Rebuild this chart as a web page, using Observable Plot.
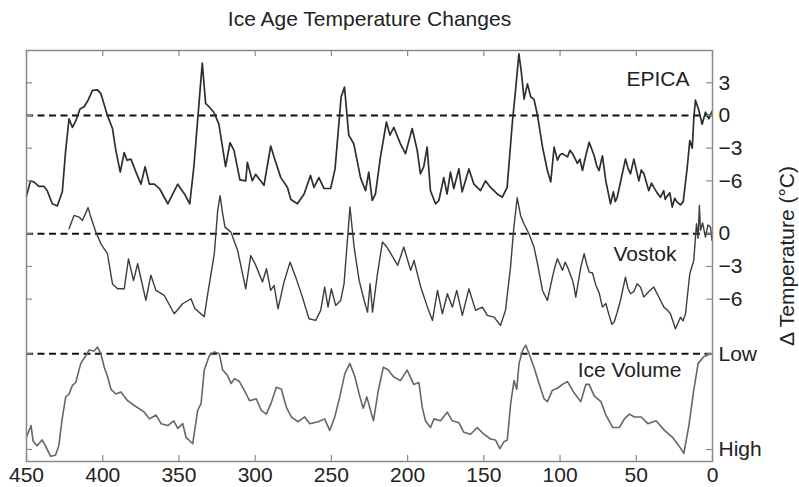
<!DOCTYPE html>
<html><head><meta charset="utf-8">
<script src="https://cdn.jsdelivr.net/npm/d3@7"></script>
<script src="https://cdn.jsdelivr.net/npm/@observablehq/plot@0.6"></script>
<style>body{margin:0;background:#fff;}</style>
</head><body><div id="chart"></div>
<script>
// ---- data (ages in thousand years before present) ----
const epicaAge = [450,447.4,445.2,441.9,438.6,436.4,433.1,429.8,426.5,424.3,422.1,419.9,417.7,414.9,412.2,409.6,406.7,403.4,401.2,396.9,393.6,391.4,388.5,385.9,384.1,381.5,378.2,374.9,372.2,369.4,366.1,362.8,357.3,350.8,346.4,342.9,340.2,337.6,334.7,332.5,330.3,327.1,323.8,319.4,316.5,313.9,310.0,306.2,305.1,301.9,299.7,297.5,294.2,289.8,287.2,283.2,278.8,276.6,272.3,267.9,263.7,261.4,258.2,254.8,250.5,247.6,243.6,241.4,238.6,235.3,230.9,227.6,225.5,223.2,221.1,217.8,213.9,211.6,209.0,204.7,201.4,197.0,193.7,191.6,189.4,187.2,185.0,181.7,179.5,176.3,174.1,171.9,169.7,166.4,164.2,159.8,156.5,152.2,148.9,145.6,141.2,137.9,134.7,131.4,129.2,127.0,125.4,123.6,121.4,119.2,117.1,114.8,111.5,108.3,106.1,103.9,101.7,100.0,98.4,95.1,93.5,91.8,88.6,87.0,85.3,83.0,80.9,77.6,76.0,74.4,72.2,70.0,66.9,65.0,63.8,62.5,59.2,57.1,55.5,53.8,51.6,48.3,46.7,45.0,41.8,40.0,38.5,36.3,34.1,32.0,31.0,29.7,28.0,26.4,24.8,23.2,21.0,19.2,16.6,14.9,13.3,12.2,11.2,9.0,6.8,4.6,2.4,0.2];
const epicaTemp = [-7.4,-6.0,-6.1,-6.5,-6.5,-6.9,-8.1,-8.3,-7.0,-3.2,-0.3,-1.1,-0.5,0.6,0.8,1.4,2.3,2.35,2.0,0.0,-1.2,-3.2,-5.2,-3.4,-4.1,-4.0,-5.2,-6.3,-4.7,-6.3,-6.3,-6.7,-8.1,-6.3,-7.2,-8.1,-4.7,-0.2,4.8,1.1,0.8,0.3,-0.8,-4.7,-2.5,-3.2,-5.9,-6.0,-4.3,-6.0,-5.4,-5.8,-6.4,-2.8,-4.0,-5.7,-6.6,-7.7,-8.1,-7.2,-5.5,-6.6,-5.7,-6.7,-6.7,-4.9,1.7,2.6,-1.8,-2.6,-5.7,-6.9,-5.2,-7.8,-7.2,-3.8,-0.6,-1.8,-1.1,-2.6,-3.5,-1.2,-3.2,-5.35,-4.7,-2.9,-6.9,-8.1,-7.8,-5.7,-7.2,-5.2,-6.7,-4.9,-7.0,-4.9,-6.3,-6.9,-6.0,-6.6,-7.2,-7.5,-6.6,-0.8,2.3,5.66,4.0,1.5,2.9,1.7,1.5,0.0,-2.9,-5.05,-6.1,-2.9,-4.1,-3.6,-3.5,-3.8,-3.2,-3.5,-4.4,-4.0,-5.05,-3.6,-2.45,-3.7,-4.6,-5.05,-3.7,-6.0,-8.1,-7.0,-7.9,-7.5,-5.35,-4.0,-4.8,-5.35,-4.0,-6.0,-5.0,-5.35,-6.9,-6.2,-6.6,-7.1,-7.5,-6.9,-7.7,-7.4,-7.1,-8.4,-7.6,-7.95,-8.2,-7.9,-4.8,-2.3,-3.0,-0.15,1.4,0.5,-0.8,0.3,-0.3,0.4];

const vostokAge = [422.1,418.8,415.5,413.3,409.6,407.8,404.5,401.2,396.9,393.6,390.3,385.9,383.1,379.8,377.1,371.7,368.4,365.1,359.6,353.1,347.6,342.1,339.5,333.4,331.1,326.8,324.6,323.0,321.3,319.8,315.9,311.5,306.2,302.9,299.6,295.2,292.6,289.8,287.6,285.0,281.1,277.1,273.4,269.0,264.7,260.3,257.0,254.4,252.2,250.0,247.2,243.9,241.7,237.8,235.1,231.8,228.5,226.3,224.6,223.0,219.8,216.5,213.6,211.0,206.5,204.7,202.5,198.0,195.8,191.4,187.0,183.7,180.4,177.2,173.9,170.6,167.8,164.1,159.8,155.4,151.0,147.7,143.3,139.1,135.8,132.5,130.3,128.1,125.9,123.7,120.4,117.1,114.8,111.5,108.3,105.0,103.3,101.7,98.4,96.7,95.1,91.8,90.8,89.7,86.4,84.2,82.5,80.9,78.7,76.5,74.4,72.2,70.0,67.8,66.0,64.5,62.5,60.4,57.1,55.5,53.8,51.6,49.4,47.2,45.0,41.8,38.5,35.2,31.9,29.7,27.6,24.3,21.0,19.4,17.7,14.9,12.3,10.5,9.5,8.6,7.9,6.5,4.6,3.0,1.3,0.3];
const vostokTemp = [0.46,1.68,1.53,1.22,2.4,1.53,0.15,-0.92,-1.83,-4.6,-5.05,-5.05,-2.3,-4.3,-2.75,-6.1,-3.8,-5.2,-5.66,-7.34,-6.42,-5.96,-6.88,-7.6,-5.5,-1.83,2.14,3.5,1.83,0.61,0.15,-1.53,-5.05,-1.99,-2.9,-4.43,-3.21,-5.2,-4.74,-6.88,-4.43,-2.6,-3.98,-5.81,-7.8,-7.95,-7.03,-4.89,-6.73,-5.05,-6.57,-6.12,-4.59,2.45,-1.22,-4.28,-6.12,-7.19,-4.59,-7.19,-3.67,-0.76,-1.22,-1.83,-2.9,-2.14,-1.22,-3.36,-2.45,-4.89,-6.73,-7.95,-5.2,-7.34,-5.5,-6.73,-5.2,-7.49,-5.05,-7.03,-6.73,-7.49,-7.65,-8.41,-7.03,-3.06,0.61,3.3,1.68,0.92,0.0,-1.22,-2.75,-5.2,-6.12,-3.98,-3.0,-2.29,-3.36,-2.6,-3.06,-4.28,-4.9,-5.81,-3.06,-1.83,-2.8,-3.52,-3.6,-4.74,-5.4,-6.73,-6.4,-7.49,-8.3,-8.1,-7.2,-6.12,-3.98,-5.0,-5.5,-5.3,-4.59,-4.9,-5.81,-5.3,-4.89,-5.8,-6.73,-7.0,-7.34,-8.72,-7.65,-8.0,-7.34,-3.67,-2.45,0.92,-0.4,2.6,0.31,1.0,-0.31,0.8,0.61,-0.61];

const iceAge = [450,447,445.7,443.1,439.8,437.6,434.3,431.0,428.8,426.6,424.3,422.1,419.9,417.7,414.4,411.1,408.9,405.6,403.4,401.2,399.0,396.8,394.6,391.4,388.1,383.7,379.3,372.7,369.4,365.0,361.7,357.3,353.4,350.8,347.5,345.4,341.0,337.7,335.5,333.4,330.1,326.8,323.5,321.3,318.0,315.8,313.6,310.3,305.9,303.7,299.3,296.0,292.7,289.4,286.1,282.8,279.5,276.3,271.9,267.5,264.2,258.7,254.4,251.1,247.8,244.5,241.2,237.9,234.6,231.3,229.1,226.8,222.4,219.2,215.9,212.6,209.3,204.7,200.3,196.0,192.6,190.4,188.3,185.0,182.7,178.4,174.0,170.7,166.4,163.1,158.7,154.3,150.0,145.6,142.4,139.5,136.9,134.6,132.4,130.2,128.4,126.9,124.7,122.5,120.3,117.1,113.8,110.5,108.3,105.0,101.7,98.4,95.1,90.7,86.4,83.1,80.9,77.6,73.2,69.9,65.5,61.1,57.8,54.5,51.2,46.8,42.4,37.0,31.5,26.4,22.1,18.8,15.5,12.3,9.4,5.7,1.3,0];
// relative ice volume index: 0 = "High" tick, 1 = "Low" tick
const iceLevel = [0.13,0.25,0.09,0.04,0.10,0.04,-0.07,-0.06,0.04,0.32,0.55,0.58,0.67,0.70,0.90,0.98,1.04,1.03,1.07,1.0,0.86,0.76,0.63,0.58,0.60,0.51,0.46,0.39,0.32,0.36,0.27,0.25,0.30,0.22,0.27,0.13,0.06,0.41,0.48,0.83,0.98,1.02,1.0,0.83,0.77,0.69,0.74,0.71,0.58,0.51,0.53,0.41,0.37,0.49,0.65,0.63,0.44,0.34,0.29,0.34,0.27,0.29,0.32,0.2,0.34,0.55,0.79,0.90,0.76,0.55,0.43,0.55,0.30,0.62,0.86,0.83,0.76,0.72,0.83,0.68,0.70,0.44,0.30,0.23,0.32,0.30,0.39,0.30,0.28,0.18,0.16,0.23,0.16,0.11,0.10,0.01,0.08,0.10,0.48,0.72,0.63,0.90,1.03,1.09,1.0,0.86,0.69,0.53,0.50,0.62,0.64,0.68,0.71,0.59,0.50,0.68,0.68,0.56,0.50,0.36,0.23,0.23,0.32,0.37,0.34,0.34,0.27,0.30,0.20,0.13,0.04,-0.04,0.25,0.62,0.90,0.97,1.0,1.0];

const xTicks = [450,400,350,300,250,200,150,100,50,0];
const epicaTicks = [3,0,-3,-6];
const vostokTicks = [0,-3,-6];
const iceTickLabels = ["Low","High"];
const seriesNames = ["EPICA","Vostok","Ice Volume"];
const titleText = "Ice Age Temperature Changes";
const axisLabel = "\u0394 Temperature (\u00B0C)";

// ---- layout: stacking offsets on a shared vertical scale (°C units) ----
const VOSTOK_OFFSET = -10.85;
const ICE_HIGH = -30.64, ICE_LOW = -21.86;
const iceY = f => ICE_HIGH + f * (ICE_LOW - ICE_HIGH);

const epica = epicaAge.map((a, i) => ({age: a, y: epicaTemp[i]}));
const vostok = vostokAge.map((a, i) => ({age: a, y: vostokTemp[i] + VOSTOK_OFFSET}));
const ice = iceAge.map((a, i) => ({age: a, y: iceY(iceLevel[i])}));

const fmt = t => t < 0 ? "\u2212" + Math.abs(t) : String(t);
const yTicks = [...epicaTicks, ...vostokTicks.map(v => v + VOSTOK_OFFSET), ICE_LOW, ICE_HIGH];
const yLabels = [...epicaTicks.map(fmt), ...vostokTicks.map(fmt), ...iceTickLabels];
const labelOf = new Map(yTicks.map((v, i) => [v, yLabels[i]]));
const zeroLines = [0, VOSTOK_OFFSET, ICE_LOW];

const W = 799, H = 487, mT = 50, mB = 26, mL = 26, mR = 87;
const frameW = W - mL - mR, frameH = H - mT - mB, tick = 6;
const gray = "#8a8a8a";

const chart = Plot.plot({
  width: W, height: H,
  marginTop: mT, marginBottom: mB, marginLeft: mL, marginRight: mR,
  x: {domain: [450, 0], label: null},
  y: {domain: [-31.74, 5.96], label: null},
  style: {fontFamily: "'Liberation Sans', Arial, sans-serif", fontSize: "21px", color: "#222", background: "#fff"},
  marks: [
    Plot.ruleY(zeroLines, {stroke: "#111", strokeWidth: 2, strokeDasharray: "7,4.5"}),
    Plot.line(ice, {x: "age", y: "y", stroke: "#666", strokeWidth: 1.6}),
    Plot.line(vostok, {x: "age", y: "y", stroke: "#3d3d3d", strokeWidth: 1.4}),
    Plot.line(epica, {x: "age", y: "y", stroke: "#2e2e2e", strokeWidth: 1.7}),
    Plot.frame({stroke: gray, strokeWidth: 1.5}),
    Plot.tickX(xTicks, {x: d => d, insetTop: frameH - tick, stroke: gray, strokeWidth: 1.2}),
    Plot.tickX(xTicks, {x: d => d, insetBottom: frameH - tick, stroke: gray, strokeWidth: 1.2}),
    Plot.tickY(yTicks, {y: d => d, insetRight: frameW - tick, stroke: gray, strokeWidth: 1.2}),
    Plot.tickY(yTicks, {y: d => d, insetLeft: frameW - tick, stroke: gray, strokeWidth: 1.2}),
    Plot.axisX(xTicks, {anchor: "bottom", tickSize: 0, tickPadding: 6, label: null}),
    Plot.axisY(yTicks, {anchor: "right", tickSize: 0, tickPadding: 6, label: null, tickFormat: d => labelOf.get(d)}),
    Plot.text([seriesNames[0]], {x: () => 15.1, y: () => 2.66, textAnchor: "end", lineAnchor: "bottom", fill: "#222"}),
    Plot.text([seriesNames[1]], {x: () => 23.6, y: () => -13.39, textAnchor: "end", lineAnchor: "bottom", fill: "#222"}),
    Plot.text([seriesNames[2]], {x: () => 20.3, y: () => -24.01, textAnchor: "end", lineAnchor: "bottom", fill: "#222"}),
    Plot.text([titleText], {frameAnchor: "top", dy: -25, lineAnchor: "bottom", fill: "#222"}),
    Plot.text([axisLabel], {frameAnchor: "right", dx: 75, rotate: -90, textAnchor: "middle", lineAnchor: "middle", fill: "#222"})
  ]
});
document.getElementById("chart").appendChild(chart);
</script>
</body></html>
